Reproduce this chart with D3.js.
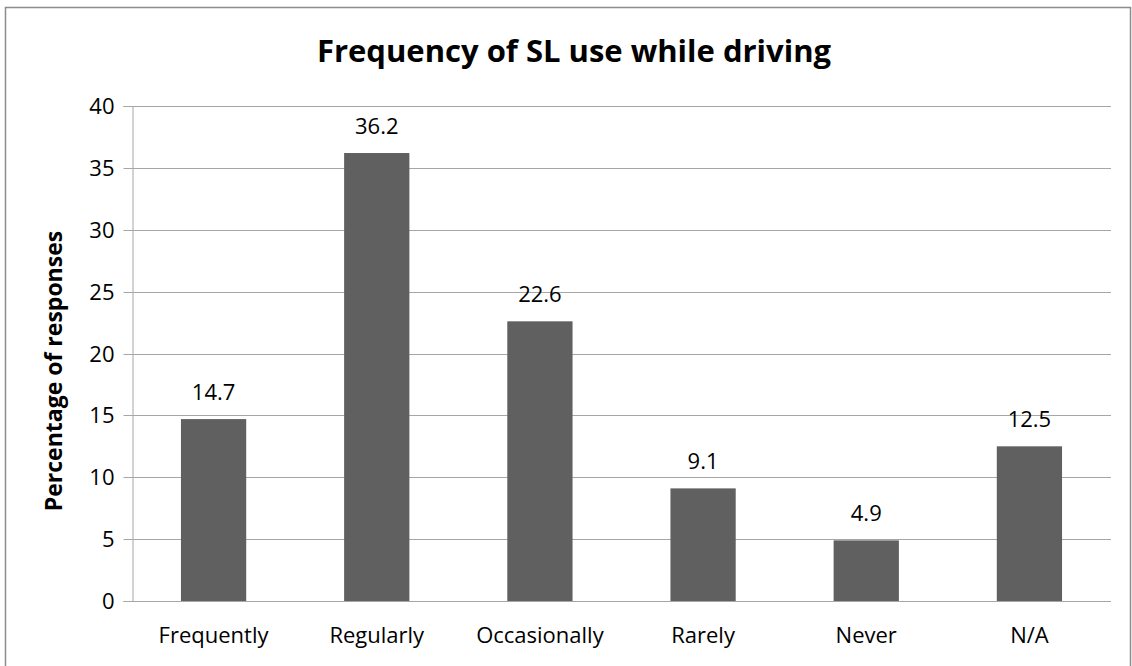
<html>
<head>
<meta charset="utf-8">
<title>Frequency of SL use while driving</title>
<script src="https://d3js.org/d3.v7.min.js"></script>
<style>
  body { margin: 0; background: #fff; }
  text { font-family: "Open Sans", "Noto Sans", sans-serif; fill: #000; }
</style>
</head>
<body>
<div id="chart"></div>
<script>
const categories = ["Frequently", "Regularly", "Occasionally", "Rarely", "Never", "N/A"];
const values = [14.7, 36.2, 22.6, 9.1, 4.9, 12.5];
const yTicks = [0, 5, 10, 15, 20, 25, 30, 35, 40];

const width = 1132, height = 666;
const margin = { left: 132, right: 21, top: 106, bottom: 65 };

const svg = d3.select("#chart").append("svg")
  .attr("width", width)
  .attr("height", height);

// outer frame
svg.append("rect")
  .attr("x", 5.5).attr("y", 7.5)
  .attr("width", 1125).attr("height", 670)
  .attr("fill", "none")
  .attr("stroke", "#8c8c8c")
  .attr("stroke-width", 1.5);

const x = d3.scaleBand()
  .domain(categories)
  .range([margin.left, width - margin.right])
  .paddingInner(0.6)
  .paddingOuter(0.3);

const y = d3.scaleLinear()
  .domain([0, 40])
  .range([height - margin.bottom, margin.top]);

// gridlines
svg.append("g").selectAll("line")
  .data(yTicks)
  .join("line")
  .attr("x1", margin.left).attr("x2", width - margin.right)
  .attr("y1", d => Math.round(y(d)) + 0.5).attr("y2", d => Math.round(y(d)) + 0.5)
  .attr("stroke", "#a6a6a6");

// y axis
const yAxis = svg.append("g")
  .attr("transform", `translate(${margin.left + 0.5},0)`)
  .call(d3.axisLeft(y).tickValues(yTicks).tickSize(9).tickPadding(9)
    .tickFormat(d3.format("d")));
yAxis.select(".domain").attr("stroke", "#a6a6a6");
yAxis.selectAll(".tick").attr("transform", d => `translate(0,${Math.round(y(d)) + 0.5})`);
yAxis.selectAll(".tick line").attr("stroke", "#a6a6a6");
yAxis.selectAll(".tick text")
  .attr("dy", "0.36em")
  .style("font-size", "22px")
  .style("font-family", "'Open Sans', sans-serif")
  .style("fill", "#000");

// bars
svg.append("g").selectAll("rect")
  .data(values)
  .join("rect")
  .attr("x", (d, i) => x(categories[i]))
  .attr("y", d => y(d))
  .attr("width", x.bandwidth())
  .attr("height", d => y(0) - y(d))
  .attr("fill", "#606060");

// value labels
svg.append("g").selectAll("text")
  .data(values)
  .join("text")
  .attr("x", (d, i) => x(categories[i]) + x.bandwidth() / 2)
  .attr("y", d => y(d) - 19)
  .attr("text-anchor", "middle")
  .style("font-size", "22px")
  .text(d => d3.format(".1f")(d));

// category labels
svg.append("g").selectAll("text")
  .data(categories)
  .join("text")
  .attr("x", d => x(d) + x.bandwidth() / 2)
  .attr("y", 643)
  .attr("text-anchor", "middle")
  .style("font-size", "22px")
  .text(d => d);

// title
svg.append("text")
  .attr("x", 574)
  .attr("y", 62)
  .attr("text-anchor", "middle")
  .style("font-size", "31px")
  .style("font-weight", "bold")
  .text("Frequency of SL use while driving");

// y axis title
svg.append("text")
  .attr("transform", "translate(62,371) rotate(-90)")
  .attr("text-anchor", "middle")
  .style("font-size", "23px")
  .style("font-weight", "bold")
  .text("Percentage of responses");
</script>
</body>
</html>
